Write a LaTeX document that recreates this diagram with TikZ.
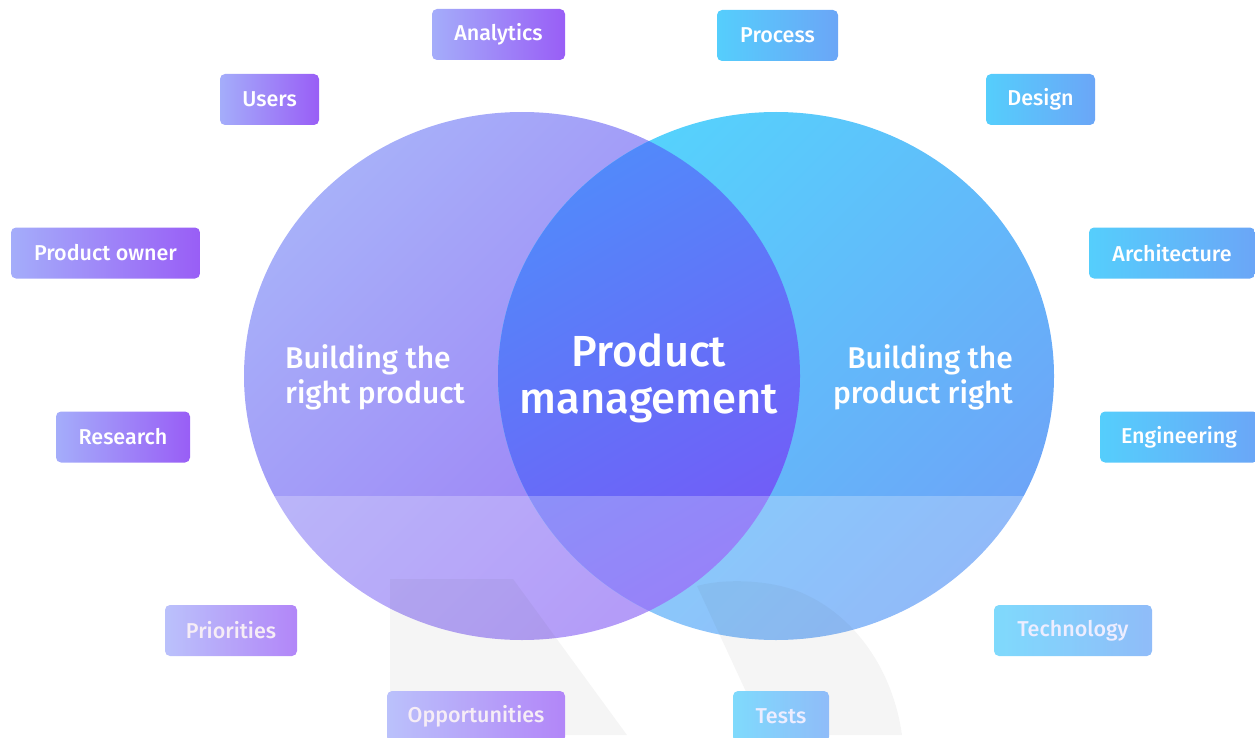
\documentclass[tikz,border=0pt]{standalone}
\usepackage{fontspec}
\IfFontExistsTF{Fira Sans Medium}
  {\newfontfamily\labelfont{Fira Sans Medium}}
  {\newfontfamily\labelfont{Fira Sans}[UprightFont={* Bold}]}

% palette
\definecolor{tagPurpleA}{HTML}{A4ADFA}
\definecolor{tagPurpleB}{HTML}{995EF6}
\definecolor{tagBlueA}{HTML}{55CEFC}
\definecolor{tagBlueB}{HTML}{6BA6F7}
\definecolor{leftA}{HTML}{A7B0F9}
\definecolor{leftB}{HTML}{9B78F6}
\definecolor{rightA}{HTML}{55D3FC}
\definecolor{rightB}{HTML}{6DA4F8}
\definecolor{midA}{HTML}{5289FA}
\definecolor{midB}{HTML}{7F4AF6}

\tikzset{
  tagbox/.style={rounded corners=5pt, minimum height=51pt, inner sep=0pt,
    text=white, font=\labelfont\fontsize{21.5}{26}\selectfont},
  tagpurple/.style={tagbox, left color=tagPurpleA, right color=tagPurpleB},
  tagblue/.style={tagbox, left color=tagBlueA, right color=tagBlueB},
  sidelabel/.style={text=white, inner sep=0pt, font=\labelfont\fontsize{30}{35}\selectfont},
  centrelabel/.style={text=white, inner sep=0pt, font=\labelfont\fontsize{43.5}{48}\selectfont},
  watermark/.style={fill=black, opacity=0.05},
}

\begin{document}
\begin{tikzpicture}[x=1pt, y=-1pt]
  \useasboundingbox (0,0) rectangle (1255,738);
  \clip (0,0) rectangle (1255,738);

  % the two overlapping sets
  \coordinate (lc) at (522,376);
  \coordinate (rc) at (776,376);
  \path[top color=leftA, bottom color=leftB, shading angle=45]
    (lc) ellipse [x radius=278pt, y radius=264pt];
  \path[top color=rightA, bottom color=rightB, shading angle=45]
    (rc) ellipse [x radius=278pt, y radius=264pt];
  \begin{scope}
    \clip (lc) ellipse [x radius=278pt, y radius=264pt];
    \path[top color=midA, bottom color=midB, shading angle=30]
      (rc) ellipse [x radius=278pt, y radius=264pt];
  \end{scope}

  % faint letterform in the background
  \fill[watermark] (390,579) -- (513,579) -- (627,735) -- (390,735) -- cycle;
  \fill[watermark] (697,586) .. controls (725,578) and (770,580) .. (800,592)
    .. controls (855,615) and (893,670) .. (902,735) -- (766,735) -- cycle;

  % surrounding tags
  \node[tagpurple, minimum width=133pt] (analytics) at (498.5,34.5) {};
  \node[tagpurple, minimum width=99pt]  (users)     at (269.5,99.5) {};
  \node[tagpurple, minimum width=189pt] (owner)     at (105.5,253) {};
  \node[tagpurple, minimum width=134pt] (research)  at (123,437) {};
  \node[tagpurple, minimum width=132pt] (priorities) at (231,630.5) {};
  \node[tagpurple, minimum width=178pt] (opps)      at (476,716.5) {};
  \node[tagblue, minimum width=121pt] (process)  at (777.5,35.5) {};
  \node[tagblue, minimum width=109pt] (design)   at (1040.5,99.5) {};
  \node[tagblue, minimum width=166pt] (arch)     at (1172,253) {};
  \node[tagblue, minimum width=158pt] (eng)      at (1179,437) {};
  \node[tagblue, minimum width=158pt] (tech)     at (1073,630.5) {};
  \node[tagblue, minimum width=96pt]  (tests)    at (781,716.5) {};

  % pale lower band
  \fill[white, opacity=0.25] (0,496) rectangle (1255,738);

  % tag captions
  \node[tagbox, fill=none] at (analytics) {Analytics};
  \node[tagbox, fill=none] at (users) {Users};
  \node[tagbox, fill=none] at (owner) {Product owner};
  \node[tagbox, fill=none] at (research) {Research};
  \node[tagbox, fill=none, text=white!93!violet] at (priorities) {Priorities};
  \node[tagbox, fill=none, text=white!93!violet] at (opps) {Opportunities};
  \node[tagbox, fill=none] at (process) {Process};
  \node[tagbox, fill=none] at (design) {Design};
  \node[tagbox, fill=none] at (arch) {Architecture};
  \node[tagbox, fill=none] at (eng) {Engineering};
  \node[tagbox, fill=none, text=white!93!blue] at (tech) {Technology};
  \node[tagbox, fill=none, text=white!93!blue] at (tests) {Tests};

  % set labels
  \node[sidelabel, anchor=base west] (leftA) at (285,368) {Building the};
  \node[sidelabel, anchor=base west] (leftB) at (285,403) {right product};
  \node[sidelabel, anchor=base east] (rightA) at (1013,368) {Building the};
  \node[sidelabel, anchor=base east] (rightB) at (1013,403) {product right};
  \node[centrelabel, anchor=base] (midA) at (649,366) {Product};
  \node[centrelabel, anchor=base] (midB) at (649,413) {management};
\end{tikzpicture}
\end{document}
